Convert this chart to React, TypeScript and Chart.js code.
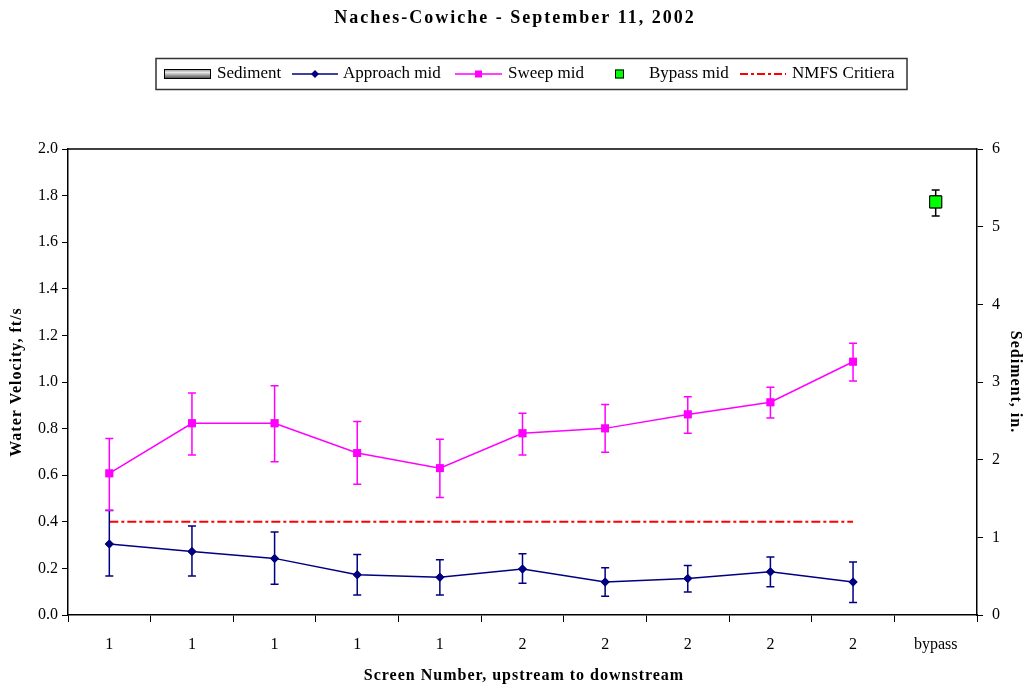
import React, { useEffect, useRef } from "react";
import { Chart, registerables } from "chart.js";

Chart.register(...registerables);

const categories = ["1", "1", "1", "1", "1", "2", "2", "2", "2", "2", "bypass"];
const sediment = [0, 0, 0, 0, 0, 0, 0, 0, 0, 0, 0];
const approach = [0.305, 0.273, 0.243, 0.173, 0.162, 0.197, 0.142, 0.157, 0.186, 0.142, null];
const approachHi = [0.448, 0.382, 0.356, 0.26, 0.237, 0.263, 0.203, 0.212, 0.249, 0.227, null];
const approachLo = [0.167, 0.167, 0.132, 0.086, 0.086, 0.136, 0.08, 0.099, 0.121, 0.054, null];
const sweep = [0.608, 0.823, 0.823, 0.695, 0.63, 0.78, 0.801, 0.861, 0.913, 1.087, null];
const sweepHi = [0.758, 0.953, 0.984, 0.83, 0.754, 0.866, 0.903, 0.937, 0.977, 1.166, null];
const sweepLo = [0.45, 0.687, 0.658, 0.561, 0.504, 0.687, 0.698, 0.78, 0.845, 1.004, null];
const bypass = [null, null, null, null, null, null, null, null, null, null, 1.773];
const bypassHi = [null, null, null, null, null, null, null, null, null, null, 1.824];
const bypassLo = [null, null, null, null, null, null, null, null, null, null, 1.712];
const nmfs = [0.4, 0.4, 0.4, 0.4, 0.4, 0.4, 0.4, 0.4, 0.4, 0.4, null];
const leftTicks = [0, 0.2, 0.4, 0.6, 0.8, 1.0, 1.2, 1.4, 1.6, 1.8, 2.0];

const FONT = '"Liberation Serif", "Times New Roman", serif';

const errorBars = {
  id: "errorBars",
  afterDatasetsDraw(chart: any) {
    const ctx = chart.ctx;
    const yScale = chart.scales.y;
    chart.data.datasets.forEach((ds: any, i: number) => {
      if (!ds.errHi) return;
      const meta = chart.getDatasetMeta(i);
      ctx.save();
      ctx.strokeStyle = ds.errColor;
      ctx.lineWidth = 1.5;
      meta.data.forEach((pt: any, j: number) => {
        const hi = ds.errHi[j];
        const lo = ds.errLo[j];
        if (hi == null || lo == null) return;
        const x = pt.x;
        const yh = yScale.getPixelForValue(hi);
        const yl = yScale.getPixelForValue(lo);
        ctx.beginPath();
        ctx.moveTo(x, yh);
        ctx.lineTo(x, yl);
        ctx.moveTo(x - 4, yh);
        ctx.lineTo(x + 4, yh);
        ctx.moveTo(x - 4, yl);
        ctx.lineTo(x + 4, yl);
        ctx.stroke();
      });
      ctx.restore();
    });
    // redraw markers on top
    chart.data.datasets.forEach((ds: any, i: number) => {
      if (!ds.errHi) return;
      const meta = chart.getDatasetMeta(i);
      meta.data.forEach((pt: any) => pt.draw(ctx, chart.chartArea));
    });
  },
};

const decorations = {
  id: "decorations",
  afterDraw(chart: any) {
    const ctx = chart.ctx;
    const ca = chart.chartArea;
    ctx.save();
    // top border of plot
    ctx.strokeStyle = "#000";
    ctx.lineWidth = 1.5;
    ctx.beginPath();
    ctx.moveTo(ca.left, ca.top);
    ctx.lineTo(ca.right, ca.top);
    ctx.stroke();

    // title
    ctx.fillStyle = "#000";
    ctx.textAlign = "center";
    ctx.textBaseline = "middle";
    (ctx as any).letterSpacing = "2px";
    ctx.font = `bold 18px ${FONT}`;
    ctx.fillText("Naches-Cowiche - September 11, 2002", 515, 18);

    // axis titles
    (ctx as any).letterSpacing = "1px";
    ctx.font = `bold 16px ${FONT}`;
    ctx.fillText("Screen Number, upstream to downstream", 524, 676);
    const midY = (ca.top + ca.bottom) / 2;
    ctx.save();
    ctx.translate(17, midY);
    ctx.rotate(-Math.PI / 2);
    ctx.fillText("Water Velocity, ft/s", 0, 0);
    ctx.restore();
    ctx.save();
    ctx.translate(1015, midY);
    ctx.rotate(Math.PI / 2);
    ctx.fillText("Sediment, in.", 0, 0);
    ctx.restore();
    (ctx as any).letterSpacing = "0px";

    // legend
    const ly = 74;
    ctx.strokeStyle = "#333";
    ctx.lineWidth = 1.5;
    ctx.strokeRect(156, 58.5, 751, 31);
    ctx.font = `17px ${FONT}`;
    ctx.textAlign = "left";
    ctx.textBaseline = "middle";
    // sediment swatch
    const g = ctx.createLinearGradient(0, ly - 5, 0, ly + 5);
    g.addColorStop(0, "#888");
    g.addColorStop(0.35, "#e6e6e6");
    g.addColorStop(1, "#3a3a3a");
    ctx.fillStyle = g;
    ctx.fillRect(164, ly - 5, 47, 10);
    ctx.strokeStyle = "#000";
    ctx.lineWidth = 1;
    ctx.strokeRect(164.5, ly - 4.5, 46, 9);
    ctx.fillStyle = "#000";
    ctx.fillText("Sediment", 217, ly);
    // approach
    ctx.strokeStyle = "#000080";
    ctx.lineWidth = 1.5;
    ctx.beginPath();
    ctx.moveTo(292, ly);
    ctx.lineTo(338, ly);
    ctx.stroke();
    ctx.fillStyle = "#000080";
    ctx.beginPath();
    ctx.moveTo(315, ly - 4);
    ctx.lineTo(319, ly);
    ctx.lineTo(315, ly + 4);
    ctx.lineTo(311, ly);
    ctx.closePath();
    ctx.fill();
    ctx.fillStyle = "#000";
    ctx.fillText("Approach mid", 343, ly);
    // sweep
    ctx.strokeStyle = "#FF00FF";
    ctx.beginPath();
    ctx.moveTo(455, ly);
    ctx.lineTo(502, ly);
    ctx.stroke();
    ctx.fillStyle = "#FF00FF";
    ctx.fillRect(475, ly - 3.5, 7, 7);
    ctx.fillStyle = "#000";
    ctx.fillText("Sweep mid", 508, ly);
    // bypass
    ctx.fillStyle = "#00FF00";
    ctx.fillRect(615, ly - 4.5, 9, 9);
    ctx.strokeStyle = "#000";
    ctx.lineWidth = 1;
    ctx.strokeRect(615.5, ly - 4, 8, 8);
    ctx.fillStyle = "#000";
    ctx.fillText("Bypass mid", 649, ly);
    // nmfs
    ctx.strokeStyle = "#FF0000";
    ctx.lineWidth = 2;
    ctx.setLineDash([8, 3, 3, 3]);
    ctx.beginPath();
    ctx.moveTo(740, ly);
    ctx.lineTo(786, ly);
    ctx.stroke();
    ctx.setLineDash([]);
    ctx.fillStyle = "#000";
    ctx.fillText("NMFS Critiera", 792, ly);
    ctx.restore();
  },
};

export default function App() {
  const ref = useRef<HTMLCanvasElement | null>(null);
  useEffect(() => {
    if (!ref.current) return;
    Chart.defaults.font.family = FONT;
    Chart.defaults.color = "#000";
    const chart = new Chart(ref.current, {
      type: "bar",
      data: {
        labels: categories,
        datasets: [
          {
            type: "line",
            label: "Approach mid",
            data: approach,
            yAxisID: "y",
            borderColor: "#000080",
            backgroundColor: "#000080",
            borderWidth: 1.5,
            pointStyle: "rectRot",
            pointRadius: 4.5,
            pointBorderWidth: 0,
            errHi: approachHi,
            errLo: approachLo,
            errColor: "#000080",
            order: 2,
          } as any,
          {
            type: "line",
            label: "Sweep mid",
            data: sweep,
            yAxisID: "y",
            borderColor: "#FF00FF",
            backgroundColor: "#FF00FF",
            borderWidth: 1.5,
            pointStyle: "rect",
            pointRadius: 5.5,
            pointBorderWidth: 0,
            errHi: sweepHi,
            errLo: sweepLo,
            errColor: "#FF00FF",
            order: 2,
          } as any,
          {
            type: "line",
            label: "Bypass mid",
            data: bypass,
            yAxisID: "y",
            showLine: false,
            borderColor: "#000",
            backgroundColor: "#00FF00",
            pointStyle: "rect",
            pointRadius: 8.5,
            pointBorderWidth: 1,
            errHi: bypassHi,
            errLo: bypassLo,
            errColor: "#000",
            order: 2,
          } as any,
          {
            type: "line",
            label: "NMFS Critiera",
            data: nmfs,
            yAxisID: "y",
            borderColor: "#FF0000",
            borderWidth: 2,
            borderDash: [9, 3, 3, 3],
            pointRadius: 0,
            order: 3,
          } as any,
          {
            type: "bar",
            label: "Sediment",
            data: sediment,
            yAxisID: "y1",
            backgroundColor: "#999",
            borderColor: "#000",
            borderWidth: 0,
            order: 4,
          } as any,
        ],
      },
      options: {
        responsive: false,
        animation: false,
        layout: { padding: { top: 149, left: 0, right: 0, bottom: 0 } },
        plugins: {
          legend: { display: false },
          title: { display: false },
          tooltip: { enabled: false },
        },
        scales: {
          x: {
            offset: true,
            grid: {
              offset: true,
              drawOnChartArea: false,
              drawTicks: true,
              tickLength: 7,
              color: "#000",
              lineWidth: 1,
            },
            border: { display: true, color: "#000", width: 1.5 },
            ticks: { font: { size: 16, family: FONT }, padding: 13, color: "#000", maxRotation: 0, autoSkip: false },
            afterFit: (s: any) => {
              s.height = 73;
            },
          },
          y: {
            position: "left",
            min: 0,
            max: 2,
            afterBuildTicks: (s: any) => {
              s.ticks = leftTicks.map((v) => ({ value: v }));
            },
            grid: { drawOnChartArea: false, drawTicks: true, tickLength: 6, color: "#000" },
            border: { display: true, color: "#000", width: 1.5 },
            ticks: {
              font: { size: 16, family: FONT },
              padding: 4,
              color: "#000",
              callback: (v: any) => Number(v).toFixed(1),
            },
            afterFit: (s: any) => {
              s.width = 68;
            },
          },
          y1: {
            position: "right",
            min: 0,
            max: 6,
            ticks: { stepSize: 1, font: { size: 16, family: FONT }, padding: 9, color: "#000" },
            grid: { drawOnChartArea: false, drawTicks: true, tickLength: 6, color: "#000" },
            border: { display: true, color: "#000", width: 1.5 },
            afterFit: (s: any) => {
              s.width = 52;
            },
          },
        },
      } as any,
      plugins: [errorBars, decorations],
    });
    return () => chart.destroy();
  }, []);
  return (
    <div style={{ position: "absolute", left: 0, top: 0, width: 1029, height: 688, background: "#fff" }}>
      <canvas ref={ref} width={1029} height={688} style={{ display: "block" }} />
    </div>
  );
}
